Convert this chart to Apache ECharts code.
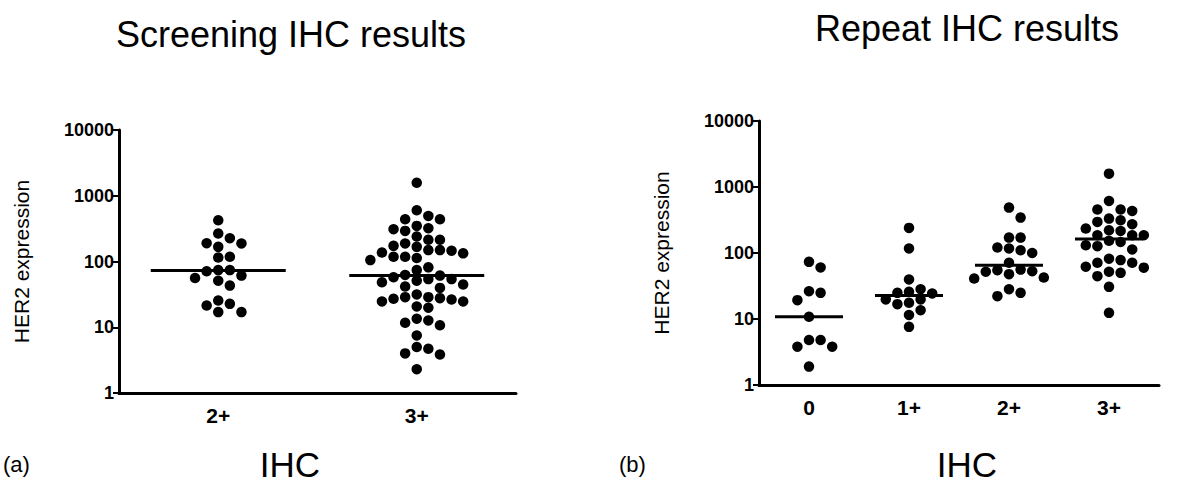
<!DOCTYPE html>
<html><head><meta charset="utf-8">
<script src="https://cdn.jsdelivr.net/npm/echarts@6/dist/echarts.min.js"></script>
<style>html,body{margin:0;padding:0;background:#fff}#c{width:1200px;height:491px}</style>
</head><body><div id="c"></div>
<script>
// ---------- data ----------
const screeningCategories = ['2+', '3+'];
const repeatCategories = ['0', '1+', '2+', '3+'];
const yTickValues = [1, 10, 100, 1000, 10000];

const screening2 = [424, 266, 226, 190, 188, 167, 118, 115, 74, 71, 74, 61, 56, 51, 43, 25.5, 22.7, 21.4, 17, 17];
const screening3 = [1574, 601, 439, 439, 493, 321, 292, 348, 310, 240, 214, 214, 173, 167, 188,
  149, 146, 133, 137, 149, 118, 105, 113, 118, 74, 81.5, 61, 54, 51, 54, 57.5, 62.4,
  44.6, 39.7, 48.3, 41.6, 31.5, 28.7, 27.7, 27.1, 24.7, 24.7, 26.4, 28.7, 19.8, 20.7,
  12.7, 11.7, 13.5, 10.7, 7.5, 5.0, 4.0, 3.85, 4.7, 2.3];
const screeningMedians = [73, 61];

const repeat0 = [60.3, 73.4, 24.9, 26.4, 19.3, 10.8, 4.8, 3.8, 3.8, 4.8, 1.9];
const repeat1 = [240, 117, 39.7, 25.8, 24.4, 24.9, 28.3, 19.8, 19.8, 16.8, 17.6, 13.6, 11.5, 7.6];
const repeat2 = [487, 344, 171, 171, 117, 110, 121, 100, 71, 53, 55, 52, 56, 47.8, 42.5, 41, 28.3, 24.9, 22.2];
const repeat3 = [1593, 614, 455, 434, 455, 313, 332, 296, 273, 216, 221, 235, 186, 186, 186,
  153, 147, 113, 127, 131, 82, 78, 71, 71, 62, 60, 50, 52, 44.6, 30.7, 12.4];
const repeatMedians = [10.8, 22.8, 65, 163];

// ---------- chart ----------
const FONT = 'Liberation Sans, Arial, sans-serif';
const chart = echarts.init(document.getElementById('c'), null, {renderer: 'svg'});

function catAxis(gridIndex, data) {
  return {
    type: 'category', gridIndex, data, boundaryGap: true,
    axisLine: {onZero: false, lineStyle: {color: '#000', width: 3}},
    axisTick: {alignWithLabel: true, length: 7, lineStyle: {color: '#000', width: 3}},
    axisLabel: {color: '#000', fontSize: 21, fontWeight: 'bold', fontFamily: FONT, margin: 12}
  };
}
function valAxis(gridIndex, n) {
  return {type: 'value', gridIndex, min: -0.5, max: n - 0.5, show: false,
    axisLine: {onZero: false}};
}
function logAxis(gridIndex) {
  return {
    type: 'log', logBase: 10, gridIndex, min: 1, max: 10000,
    axisLine: {show: true, onZero: false, lineStyle: {color: '#000', width: 3}},
    axisTick: {show: true, length: 6, lineStyle: {color: '#000', width: 2}},
    axisLabel: {color: '#000', fontSize: 18, fontWeight: 'bold', fontFamily: FONT, margin: 5,
      formatter: v => String(Math.round(v))},
    splitLine: {show: false},
    name: 'HER2 expression', nameLocation: 'middle', nameRotate: 90, nameGap: 87,
    nameTextStyle: {color: '#000', fontSize: 21, fontFamily: FONT}
  };
}

const baseOption = {
  backgroundColor: '#fff',
  animation: false,
  title: [
    {text: 'Screening IHC results', left: 286, top: 11, textAlign: 'center',
      textStyle: {fontSize: 36, fontWeight: 'normal', fontFamily: FONT, color: '#000'}},
    {text: 'Repeat IHC results', left: 962, top: 5, textAlign: 'center',
      textStyle: {fontSize: 36, fontWeight: 'normal', fontFamily: FONT, color: '#000'}}
  ],
  graphic: [
    {type: 'text', left: 3, top: 453, style: {text: '(a)', font: '22px ' + FONT, fill: '#000'}},
    {type: 'text', left: 619, top: 453, style: {text: '(b)', font: '22px ' + FONT, fill: '#000'}},
    {type: 'text', x: 290, y: 447, style: {text: 'IHC', font: '35px ' + FONT, fill: '#000', textAlign: 'center'}},
    {type: 'text', x: 967, y: 447, style: {text: 'IHC', font: '35px ' + FONT, fill: '#000', textAlign: 'center'}}
  ],
  grid: [
    {left: 119, top: 130, width: 397, height: 263},
    {left: 759, top: 121, width: 400, height: 264}
  ],
  xAxis: [catAxis(0, screeningCategories), valAxis(0, 2), catAxis(1, repeatCategories), valAxis(1, 4)],
  yAxis: [logAxis(0), logAxis(1)],
  series: []
};
chart.setOption(baseOption);

// beeswarm layout computed through the axes' own scales
function swarm(values, yAxisIndex, xAxisIndex, cat) {
  const dPx = 11.6, thr = 0.88 * dPx;
  const pxPerUnit = chart.convertToPixel({xAxisIndex}, 1) - chart.convertToPixel({xAxisIndex}, 0);
  const pts = values.map((v, i) => ({i, v, y: chart.convertToPixel({yAxisIndex}, v)}));
  pts.sort((a, b) => a.y - b.y);
  const placed = [];
  const out = new Array(values.length);
  for (const p of pts) {
    for (let k = 0; k < 20; k++) {
      const slots = k === 0 ? [0] : [k, -k];
      let found = null;
      for (const s of slots) {
        if (!placed.some(q => q.s === s && Math.abs(q.y - p.y) < thr)) { found = s; break; }
      }
      if (found !== null) { placed.push({s: found, y: p.y}); out[p.i] = [cat + found * dPx / pxPerUnit, p.v]; break; }
    }
  }
  return out;
}

function dots(values, xAxisIndex, yAxisIndex, cat) {
  return {type: 'scatter', xAxisIndex, yAxisIndex, symbol: 'circle', symbolSize: 10.5,
    itemStyle: {color: '#000', opacity: 1}, data: swarm(values, yAxisIndex, xAxisIndex, cat), z: 3};
}
function medianSeries(meds, xAxisIndex, yAxisIndex) {
  return {
    type: 'custom', xAxisIndex, yAxisIndex, z: 4,
    data: meds.map((m, i) => [i, m]),
    renderItem: (params, api) => {
      const c = api.value(0), m = api.value(1);
      const p1 = api.coord([c - 0.34, m]), p2 = api.coord([c + 0.34, m]);
      return {type: 'line', shape: {x1: p1[0], y1: p1[1], x2: p2[0], y2: p2[1]},
        style: {stroke: '#000', lineWidth: 3}};
    }
  };
}

chart.setOption({
  series: [
    dots(screening2, 1, 0, 0), dots(screening3, 1, 0, 1),
    medianSeries(screeningMedians, 1, 0),
    dots(repeat0, 3, 1, 0), dots(repeat1, 3, 1, 1), dots(repeat2, 3, 1, 2), dots(repeat3, 3, 1, 3),
    medianSeries(repeatMedians, 3, 1)
  ]
});
</script></body></html>
